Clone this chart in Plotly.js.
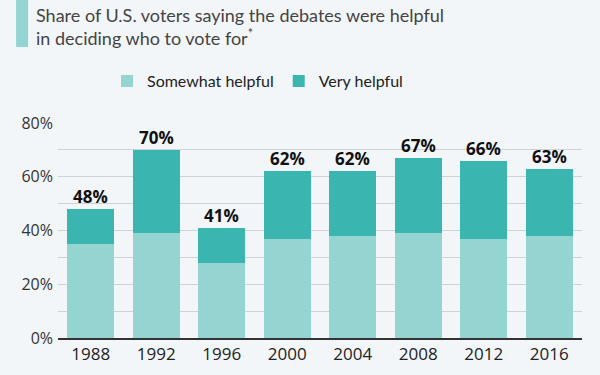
<!DOCTYPE html>
<html>
<head>
<meta charset="utf-8">
<script src="https://cdn.plot.ly/plotly-3.0.1.min.js"></script>
<style>html,body{margin:0;padding:0;background:#f3f6f9;}#chart{width:600px;height:375px;}</style>
</head>
<body>
<div id="chart"></div>
<script>
const years = ["1988","1992","1996","2000","2004","2008","2012","2016"];
const somewhat = [35, 39, 28, 37, 38, 39, 37, 38];
const very = [13, 31, 13, 25, 24, 28, 29, 25];
const totals = [48, 70, 41, 62, 62, 67, 66, 63];
const yTicks = [0, 20, 40, 60, 80];
const yTickText = ["0%", "20%", "40%", "60%", "80%"];

const FONT = "Open Sans, sans-serif";
const TFONT = "Lato, Open Sans, sans-serif";
const traces = [
  {type: "bar", name: "Somewhat helpful", x: years, y: somewhat,
   marker: {color: "#94d5d2"}, hoverinfo: "skip"},
  {type: "bar", name: "Very helpful", x: years, y: very,
   marker: {color: "#3bb5b0"}, hoverinfo: "skip"}
];

// category axis: annotation x given as category index
const labelAnns = years.map((yr, i) => ({
  x: i, y: totals[i], xref: "x", yref: "y", xanchor: "center", yanchor: "bottom",
  showarrow: false, borderpad: 0, yshift: 0,
  text: "<b>" + totals[i] + "%</b>",
  font: {family: FONT, size: 17, color: "#111"}
}));

const layout = {
  width: 600, height: 375,
  paper_bgcolor: "#f3f6f9", plot_bgcolor: "#f3f6f9",
  barmode: "stack", bargap: 0.285,
  margin: {l: 58, r: 18, t: 123, b: 37},
  font: {family: FONT, color: "#333"},
  showlegend: true,
  legend: {orientation: "h", x: 0.0935, xanchor: "left", y: 1.195, yanchor: "middle",
           font: {family: TFONT, size: 16, color: "#222"}, traceorder: "normal",
           bgcolor: "rgba(0,0,0,0)"},
  xaxis: {type: "category", tickfont: {family: FONT, size: 17, color: "#222"},
          showline: true, linecolor: "#333", linewidth: 1.5, ticks: "", showgrid: false},
  yaxis: {range: [0, 80], tickvals: yTicks, ticktext: yTickText,
          tickfont: {family: FONT, size: 16, color: "#333"},
          gridcolor: "#cfd3d6", gridwidth: 1, zeroline: false,
          minor: {dtick: 10, showgrid: true, gridcolor: "#cfd3d6", gridwidth: 1},
          ticks: "", ticklabelstandoff: 4},
  shapes: [{type: "rect", xref: "paper", yref: "paper", x0: -0.080, x1: -0.057,
            y0: 1.353, y1: 1.6, fillcolor: "#94d5d2", line: {width: 0}}],
  annotations: [{xref: "paper", yref: "paper", x: -0.0439, y: 1.558, xanchor: "left", yanchor: "top",
                 align: "left", showarrow: false, borderpad: 0,
                 text: "Share of U.S. voters saying the debates were helpful<br>in deciding who to vote for<sup>*</sup>",
                 font: {family: TFONT, size: 18, color: "#444"}}].concat(labelAnns)
};

Plotly.newPlot("chart", traces, layout, {displayModeBar: false, staticPlot: true});
</script>
</body>
</html>
